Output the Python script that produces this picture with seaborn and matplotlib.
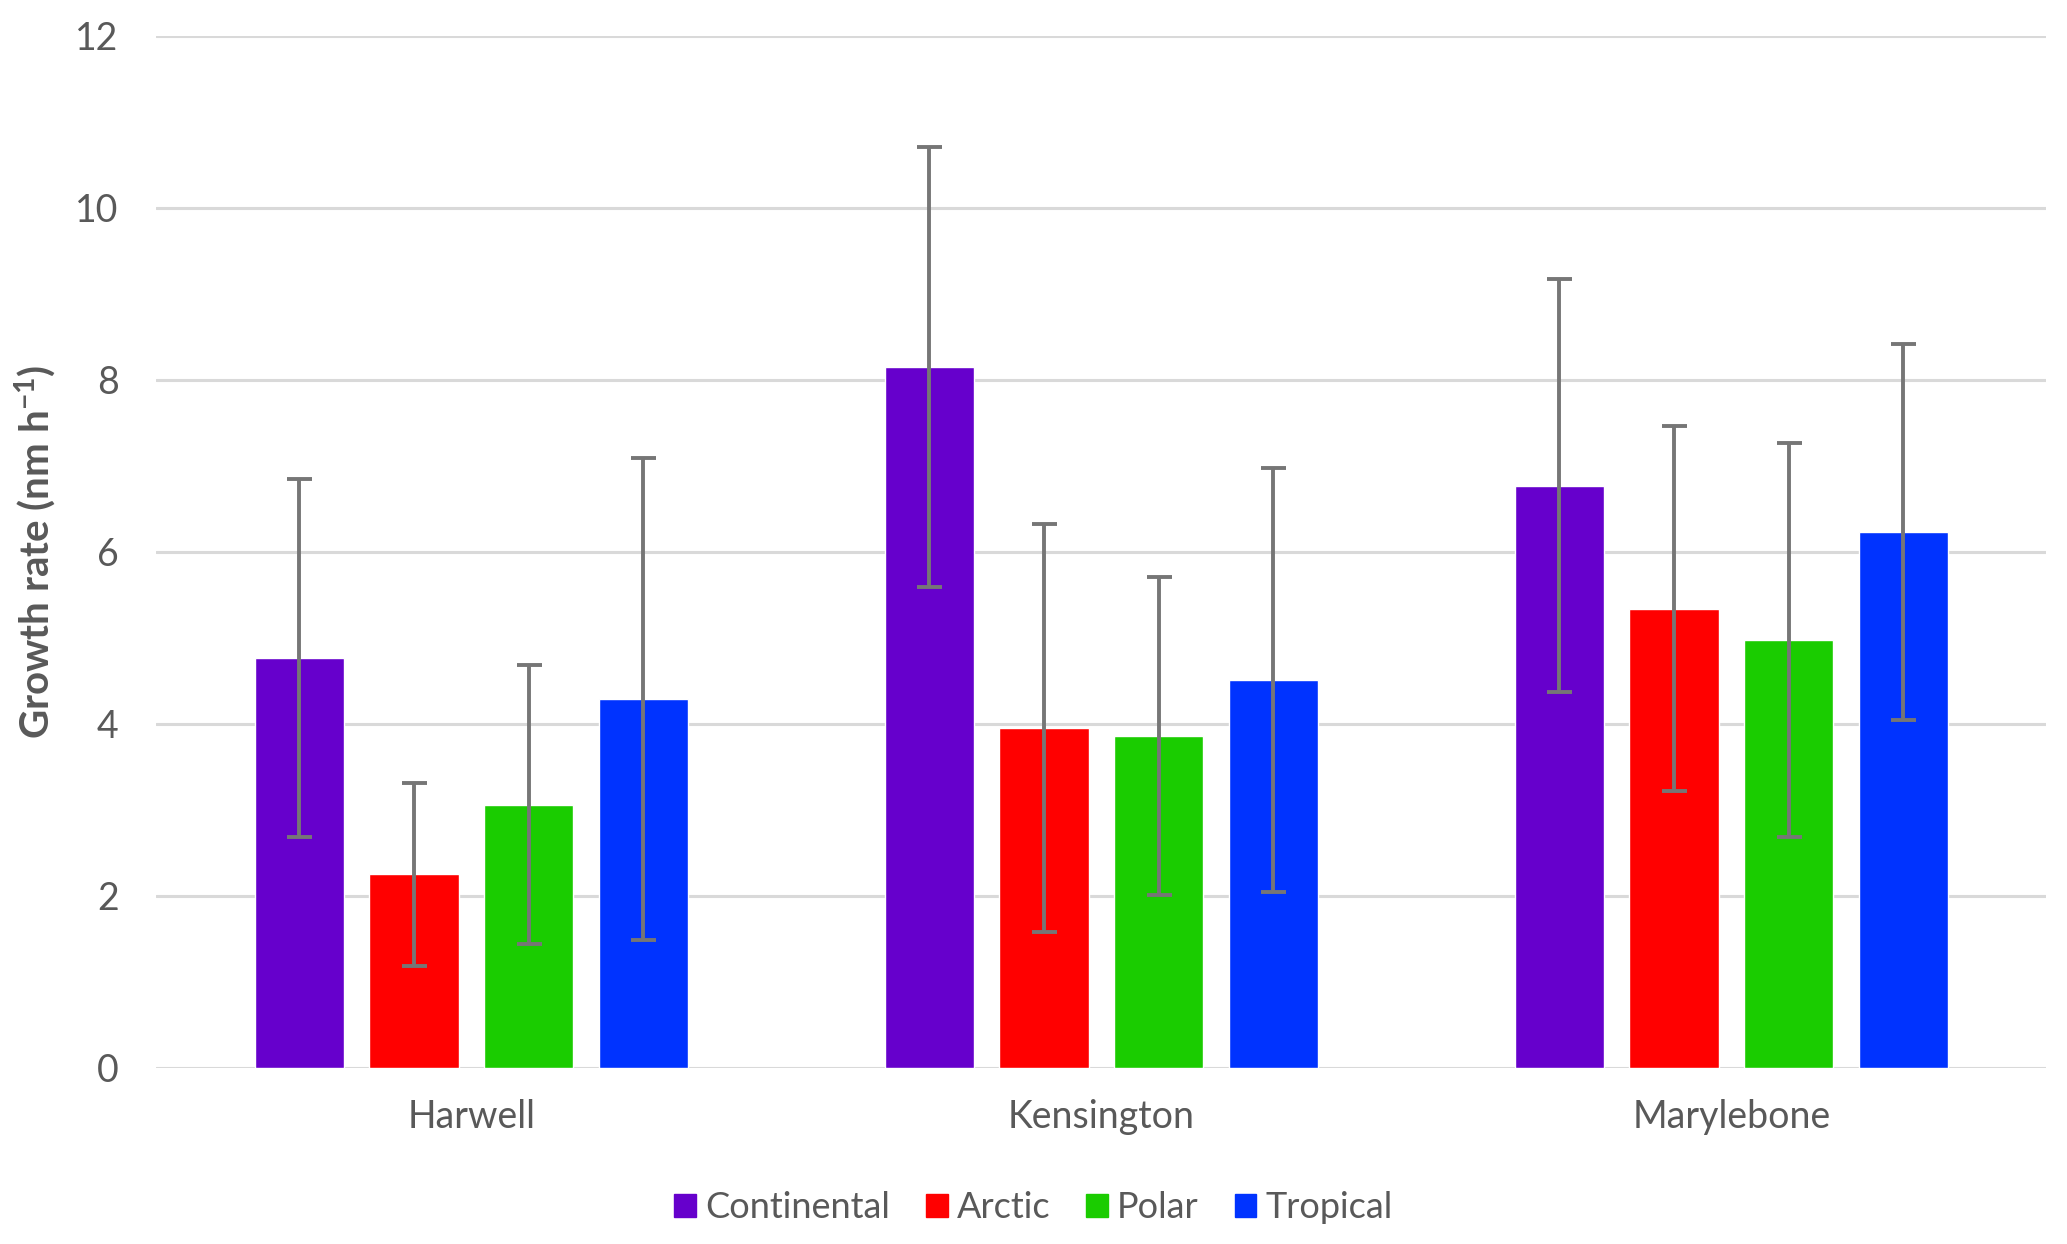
import pandas as pd
import matplotlib.pyplot as plt
import seaborn as sns

# Data
sites = ["Harwell", "Kensington", "Marylebone"]
air_masses = ["Continental", "Arctic", "Polar", "Tropical"]
colors = ["#6600CC", "#FF0000", "#1ACC00", "#0033FF"]

continental = [4.77, 8.15, 6.77]
arctic = [2.25, 3.95, 5.34]
polar = [3.06, 3.86, 4.98]
tropical = [4.29, 4.51, 6.23]

continental_err = [2.08, 2.56, 2.40]
arctic_err = [1.06, 2.37, 2.12]
polar_err = [1.62, 1.85, 2.29]
tropical_err = [2.80, 2.47, 2.19]

means = [continental, arctic, polar, tropical]
errs = [continental_err, arctic_err, polar_err, tropical_err]

rows = []
for m, vals, ers in zip(air_masses, means, errs):
    for s, v, e in zip(sites, vals, ers):
        rows.append({"site": s, "mass": m, "rate": v, "err": e})
df = pd.DataFrame(rows)

sns.set_theme(style="white")
plt.rcParams['font.family'] = ['Lato', 'DejaVu Sans']
plt.rcParams['mathtext.default'] = 'regular'
text_col = "#595959"

fig = plt.figure(figsize=(20.67, 12.44), dpi=100)
ax = fig.add_axes([0.0756, 0.1415, 0.9144, 0.8298])

sns.barplot(data=df, x="site", y="rate", hue="mass", order=sites, hue_order=air_masses,
            palette=colors, errorbar=None, width=0.728, gap=0.22, saturation=1,
            ax=ax, legend=False)

# error bars centred on each drawn bar
for i, m in enumerate(air_masses):
    cont = ax.containers[i]
    xs = [p.get_x() + p.get_width() / 2 for p in cont.patches]
    sub = df[df["mass"] == m].set_index("site").loc[sites]
    ax.errorbar(xs, sub["rate"], yerr=sub["err"], fmt="none", ecolor="#767676",
                elinewidth=2.8, capsize=9, capthick=2.8, zorder=3)

ax.set_ylim(0, 12)
ax.set_xlim(-0.5, 2.5)
ax.set_yticks(range(0, 13, 2))
ax.yaxis.grid(True, color="#D9D9D9", linewidth=2.2)
ax.set_axisbelow(True)
for sp in ax.spines.values():
    sp.set_visible(False)
ax.tick_params(axis="both", length=0, labelsize=27, colors=text_col)
ax.tick_params(axis="y", pad=27)
ax.tick_params(axis="x", pad=22)
ax.set_xlabel("")
ax.set_ylabel("Growth rate (nm h$^{-1}$)", fontsize=29, fontweight="bold", color=text_col, labelpad=12)

handles = [plt.Rectangle((0, 0), 1, 1, color=c) for c in colors]
leg = fig.legend(handles, air_masses, loc="center", bbox_to_anchor=(0.5, 0.029), ncol=4,
                 frameon=False, fontsize=26, handlelength=0.6, handleheight=0.6,
                 handletextpad=0.25, columnspacing=1.0)
for t in leg.get_texts():
    t.set_color(text_col)

fig.savefig("out.png", dpi=100)
